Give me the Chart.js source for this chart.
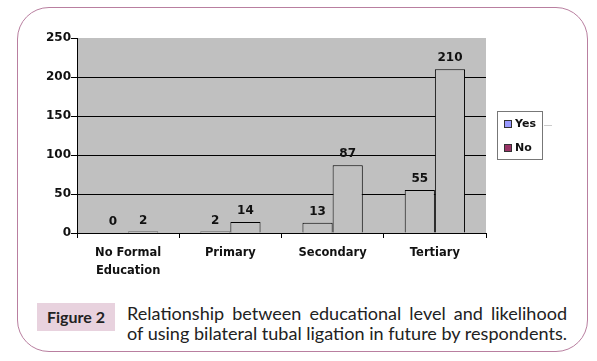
<!DOCTYPE html>
<html><head><meta charset="utf-8">
<script src="https://cdn.jsdelivr.net/npm/chart.js@4.4.0/dist/chart.umd.min.js"></script>
<style>
html,body{margin:0;padding:0;background:#fff;}
#wrap{position:relative;width:597px;height:361px;overflow:hidden;background:#fff;}
#frame{position:absolute;left:17px;top:7px;width:571px;height:345px;box-sizing:border-box;border:1.5px solid #b97fa0;border-radius:32px;}
#cv{position:absolute;left:0;top:0;}
#fig{position:absolute;left:37px;top:303px;width:78px;height:28px;background:#e8d2de;font:bold 16px Lato;color:#222;text-align:center;line-height:28px;}
.cap{position:absolute;left:127px;font-family:Lato;font-size:18px;color:#222;line-height:20px;white-space:nowrap;transform-origin:0 0;}
#l1{top:303px;text-align:justify;text-align-last:justify;white-space:normal;}
#l2{top:323px;}
</style></head>
<body>
<div id="wrap">
  <div id="frame"></div>
  <canvas id="cv" width="597" height="300"></canvas>
  <div id="fig">Figure 2</div>
  <div class="cap" id="l1">Relationship between educational level and likelihood</div>
  <div class="cap" id="l2">of using bilateral tubal ligation in future by respondents.</div>
</div>
<script>
const categories = [["No Formal","Education"],"Primary","Secondary","Tertiary"];
const yesValues = [0, 2, 13, 55];
const noValues = [2, 14, 87, 210];
const seriesNames = ["Yes", "No"];
const legendColors = ["#9999ff", "#993366"];
const yMin = 0, yMax = 250, yStep = 50;

// fit caption lines to a 440px column using a horizontal scale
(function(){
  const l1=document.getElementById('l1'), l2=document.getElementById('l2');
  const w2=l2.getBoundingClientRect().width;
  const s=440/w2;
  l2.style.transform='scaleX('+s+')';
  l1.style.width=(440/s)+'px';
  l1.style.transform='scaleX('+s+')';
})();

const bgPlugin = {
  id:'bg',
  beforeDraw(chart){
    const a=chart.chartArea, c=chart.ctx;
    c.save(); c.fillStyle='#c0c0c0'; c.fillRect(a.left,a.top,a.right-a.left,a.bottom-a.top); c.restore();
  }
};
const labelPlugin = {
  id:'vals',
  afterDatasetsDraw(chart){
    const c=chart.ctx;
    c.save();
    c.font='bold 12px "DejaVu Sans"';
    c.fillStyle='#111';
    c.textAlign='center'; c.textBaseline='bottom';
    chart.data.datasets.forEach((ds,i)=>{
      chart.getDatasetMeta(i).data.forEach((el,j)=>{
        c.fillText(String(ds.data[j]), el.x, el.y-5);
      });
    });
    c.restore();
  }
};
const legendPlugin = {
  id:'lg',
  afterDraw(chart){
    const a=chart.chartArea, c=chart.ctx;
    const x=a.right+11, y=111, w=45, h=48;
    c.save();
    c.fillStyle='#fff'; c.fillRect(x,y,w,h);
    c.strokeStyle='#777'; c.lineWidth=1; c.strokeRect(x+0.5,y+0.5,w,h);
    c.font='bold 11px "DejaVu Sans"'; c.textBaseline='middle'; c.textAlign='left';
    seriesNames.forEach((n,i)=>{
      const yy=y+13+i*24;
      c.fillStyle=legendColors[i]; c.fillRect(x+7,yy-4,8,8);
      c.strokeStyle='#333'; c.strokeRect(x+7.5,yy-3.5,7,7);
      c.fillStyle='#111'; c.fillText(n,x+18,yy);
    });
    c.strokeStyle='#ccc';
    c.beginPath(); c.moveTo(x+w+2,125.5); c.lineTo(x+w+10,125.5); c.stroke();
    c.restore();
  }
};

new Chart(document.getElementById('cv'), {
  type:'bar',
  data:{
    labels:categories,
    datasets:[
      {label:seriesNames[0], data:yesValues, backgroundColor:'#c0c0c0', borderColor:'#000', borderWidth:1, categoryPercentage:0.59, barPercentage:1},
      {label:seriesNames[1], data:noValues, backgroundColor:'#c0c0c0', borderColor:'#000', borderWidth:1, categoryPercentage:0.59, barPercentage:1}
    ]
  },
  options:{
    responsive:false, animation:false,
    layout:{padding:{left:20, top:38, right:111, bottom:0}},
    plugins:{legend:{display:false}, tooltip:{enabled:false}},
    scales:{
      x:{
        offset:true,
        grid:{offset:true, drawOnChartArea:false, tickLength:5, tickColor:'#000'},
        border:{color:'#000', width:1},
        ticks:{font:{family:'DejaVu Sans', weight:'bold', size:11.5, lineHeight:1.55}, color:'#111', padding:6, maxRotation:0, autoSkip:false},
        afterFit(s){ s.height=67; }
      },
      y:{
        min:yMin, max:yMax,
        ticks:{stepSize:yStep, font:{family:'DejaVu Sans', weight:'bold', size:12}, color:'#111', padding:0},
        grid:{color:(ctx)=> (ctx.tick && ctx.tick.value===yMax) ? 'rgba(0,0,0,0)' : '#000', tickColor:'#000', tickLength:6, lineWidth:1},
        border:{color:'#000', width:1},
        afterFit(s){ s.width=57; }
      }
    }
  },
  plugins:[bgPlugin, labelPlugin, legendPlugin]
});
</script>
</body></html>
